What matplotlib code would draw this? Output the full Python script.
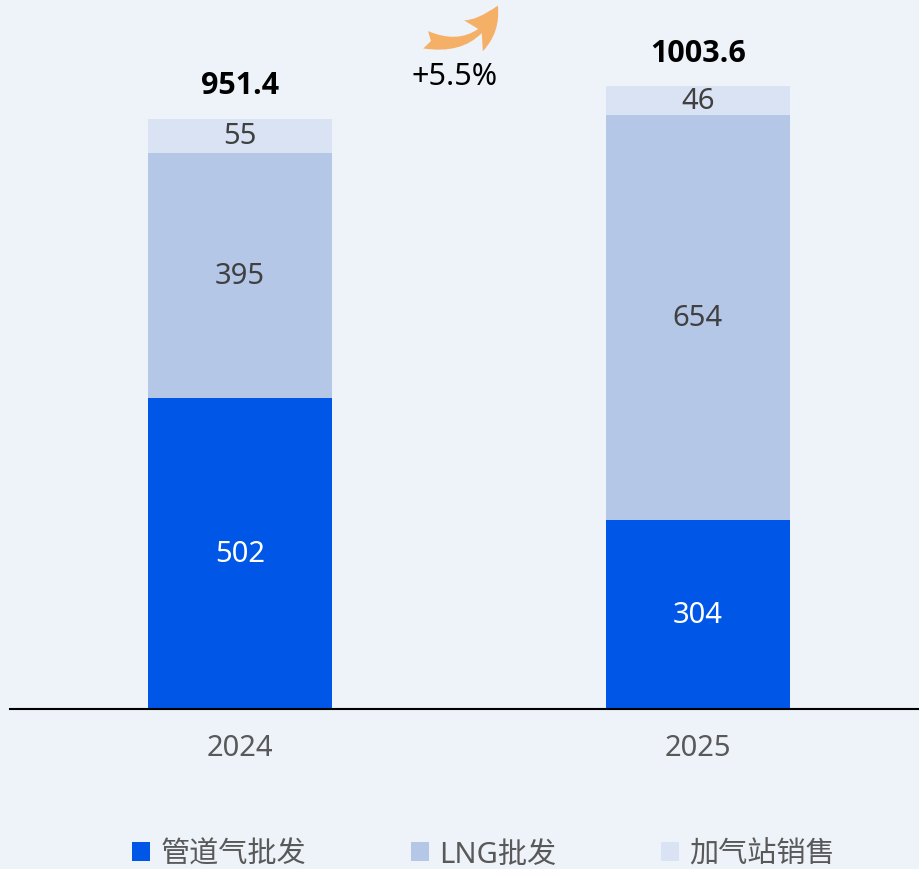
import matplotlib
matplotlib.use("Agg")
import matplotlib.pyplot as plt
from matplotlib.patches import FancyArrowPatch

plt.rcParams['font.family'] = ['Noto Sans', 'Noto Sans CJK SC', 'DejaVu Sans']

years = ['2024', '2025']
series_names = ['管道气批发', 'LNG批发', '加气站销售']
pipeline = [502, 304]
lng = [395, 654]
station = [55, 46]
totals = ['951.4', '1003.6']
growth = '+5.5%'

colors = ['#0057E7', '#B4C7E7', '#DAE3F3']
label_colors = ['white', '#404040', '#404040']
bg = '#EEF3FA'

W, H = 920, 870
fig = plt.figure(figsize=(W / 100, H / 100), dpi=100, facecolor=bg)
ax = fig.add_axes([10 / W, 160 / H, 910 / W, 710 / H], facecolor=bg)

x = list(range(len(years)))
width = 0.4017
bottoms = [0] * len(years)
handles = []
for vals, c, lc, name in zip([pipeline, lng, station], colors, label_colors, series_names):
    b = ax.bar(x, vals, width, bottom=bottoms, color=c, label=name, zorder=2)
    handles.append(b)
    for xi, v, bt in zip(x, vals, bottoms):
        ax.text(xi, bt + v / 2, str(v), ha='center', va='center', color=lc, fontsize=21)
    bottoms = [bt + v for bt, v in zip(bottoms, vals)]

for xi, top, t in zip(x, bottoms, totals):
    ax.annotate(t, (xi, top), xytext=(0, 24), textcoords='offset points',
                ha='center', va='center', fontsize=22, fontweight='bold', color='black',
                family=['Open Sans', 'DejaVu Sans'])

ax.set_xlim(-0.502, 1.485)
ax.set_ylim(0, 1145)
ax.set_xticks(x)
ax.set_xticklabels(years, fontsize=21, color='#595959')
ax.tick_params(axis='x', length=0, pad=17)
ax.set_yticks([])
for s in ['top', 'right', 'left']:
    ax.spines[s].set_visible(False)
ax.spines['bottom'].set_color('black')
ax.spines['bottom'].set_linewidth(1.5)

# growth annotation
fig.text(455 / W, 1 - 77 / H, growth, ha='center', va='center', fontsize=22, color='black')
arrow = FancyArrowPatch((423 / W, 1 - 40 / H), (499 / W, 1 - 4 / H),
                        transform=fig.transFigure,
                        connectionstyle='arc3,rad=0.45',
                        arrowstyle='fancy,head_length=28,head_width=26,tail_width=13',
                        color='#F4B066', lw=0, mutation_scale=1)
fig.patches.append(arrow)

leg = fig.legend(handles=handles, labels=series_names, loc='center',
                 bbox_to_anchor=(483.5 / W, 1 - 855 / H), ncol=3, frameon=False,
                 fontsize=21, handlelength=0.62, handleheight=0.62, handletextpad=0.34,
                 columnspacing=3.6, borderpad=0)
for t in leg.get_texts():
    t.set_color('#595959')

fig.savefig('out.png', dpi=100, facecolor=bg)
